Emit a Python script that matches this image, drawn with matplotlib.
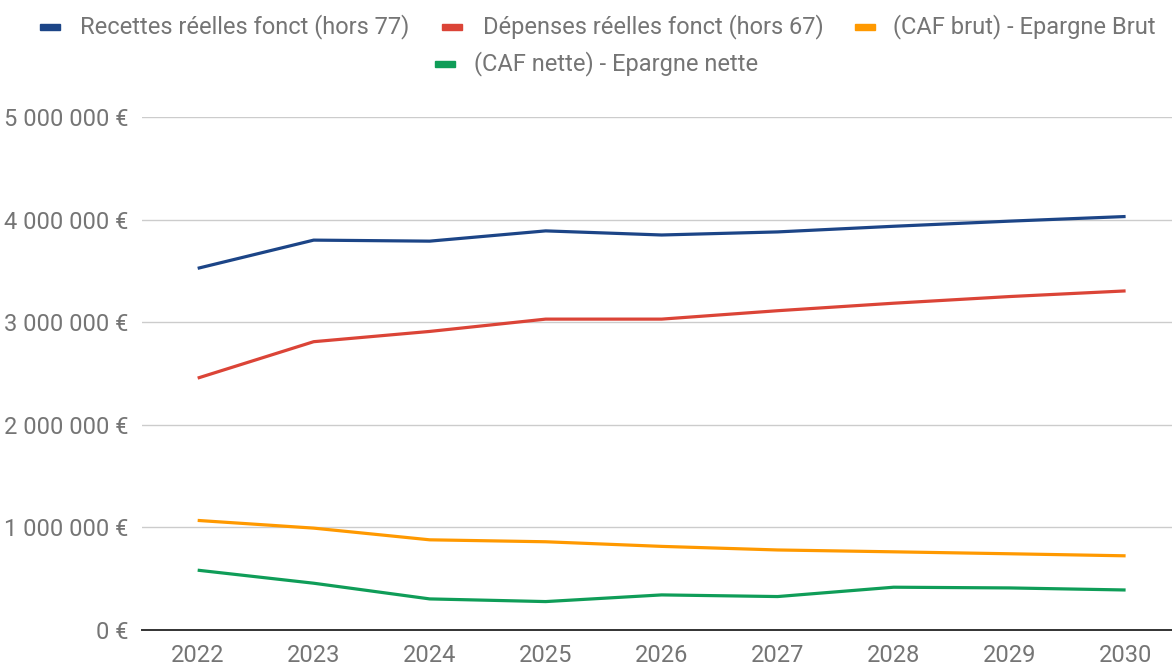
import matplotlib
matplotlib.use("Agg")
import matplotlib.pyplot as plt
from matplotlib.patches import Rectangle
from matplotlib.ticker import FuncFormatter

plt.rcParams['font.family'] = ['Roboto', 'DejaVu Sans']

years = [2022, 2023, 2024, 2025, 2026, 2027, 2028, 2029, 2030]
recettes = [3525000, 3800000, 3790000, 3890000, 3850000, 3880000, 3935000, 3985000, 4030000]
depenses = [2455000, 2810000, 2910000, 3030000, 3030000, 3112000, 3185000, 3250000, 3305000]
caf_brut = [1068000, 993000, 879000, 860000, 815000, 780000, 762000, 743000, 723000]
caf_nette = [583000, 456000, 303000, 277000, 342000, 326000, 417000, 410000, 390000]

labels = ['Recettes réelles fonct (hors 77)', 'Dépenses réelles fonct (hors 67)',
          '(CAF brut) - Epargne Brut', '(CAF nette) - Epargne nette']
colors = ['#1c4587', '#db4437', '#ff9900', '#0f9d58']
series = [recettes, depenses, caf_brut, caf_nette]

W, H = 1172, 669
fs = 17
fig = plt.figure(figsize=(W / 100, H / 100), dpi=100)
ax = fig.add_axes([142 / W, 1 - 630 / H, (1172 - 142) / W, (630 - 117) / H])

for vals, c in zip(series, colors):
    ax.plot(years, vals, color=c, linewidth=2.3, solid_capstyle='butt', zorder=3)

ax.set_xlim(2021.52, 2030.4)
ax.set_ylim(0, 5000000)
ax.set_yticks(range(0, 5000001, 1000000))
ax.set_xticks(years)
ax.yaxis.set_major_formatter(FuncFormatter(lambda v, p: f"{int(v):,} €".replace(',', ' ')))
ax.grid(axis='y', color='#cccccc', linewidth=1)
ax.set_axisbelow(True)
for s in ['top', 'right', 'left']:
    ax.spines[s].set_visible(False)
ax.spines['bottom'].set_color('#333333')
ax.spines['bottom'].set_linewidth(1.4)
ax.spines['bottom'].set_zorder(4)
ax.tick_params(axis='both', length=0, labelsize=fs, colors='#757575')
ax.tick_params(axis='y', pad=10)
ax.tick_params(axis='x', pad=10)

# legend, drawn by hand
items = [(40, 80, 27), (442, 483, 27), (855, 893, 27), (435, 474, 64)]
for (mx, tx, y), lab, c in zip(items, labels, colors):
    fig.patches.append(Rectangle((mx / W, 1 - (y + 3) / H), 20 / W, 6 / H,
                                 transform=fig.transFigure, color=c))
    fig.text(tx / W, 1 - y / H, lab, fontsize=fs, color='#757575',
             va='center', ha='left')

fig.savefig('out.png', dpi=100)
